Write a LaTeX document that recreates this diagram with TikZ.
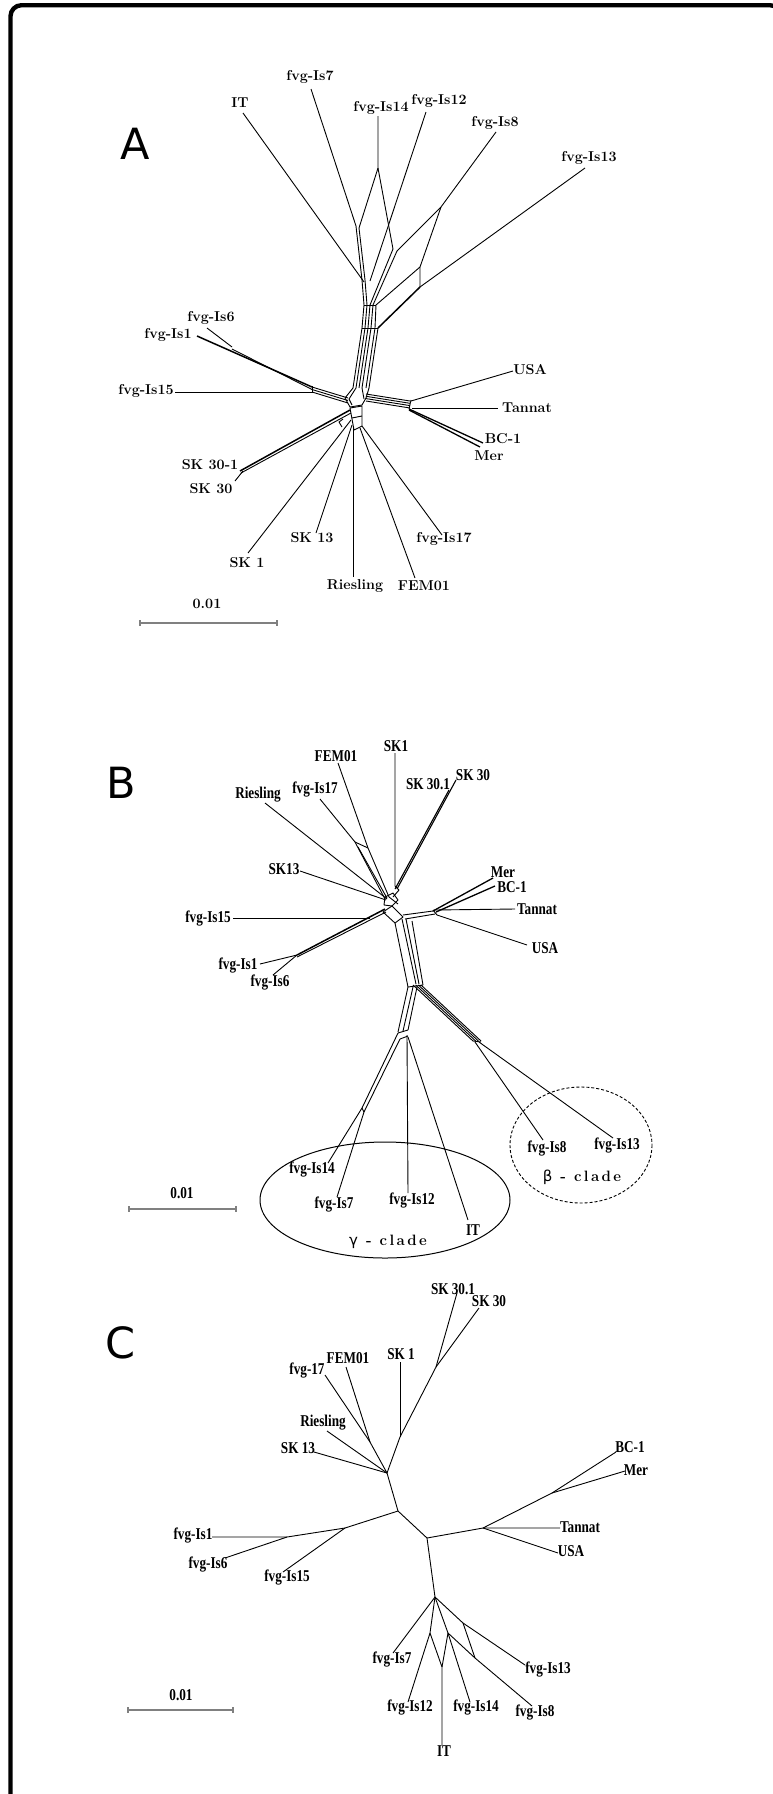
\documentclass[tikz,border=0pt]{standalone}
\usepackage{fontspec}
\newfontfamily\dejavu{DejaVu Sans}
\newfontfamily\tmsb[FakeStretch=0.8]{Liberation Serif Bold}
\newfontfamily\cladefont[LetterSpace=16]{Latin Modern Roman}
\begin{document}
\begin{tikzpicture}[x=1pt,y=-1pt,
  net/.style={line width=0.9pt,line join=round},
  netb/.style={line width=1.5pt,line join=round},
  lbA/.style={font=\fontsize{14.3}{15}\selectfont\bfseries,inner sep=0pt},
  lbB/.style={font=\fontsize{16.5}{17}\selectfont\tmsb,inner sep=0pt},
  letter/.style={font=\fontsize{43}{44}\selectfont\dejavu,inner sep=0pt},
  clade/.style={font=\fontsize{15}{16}\selectfont\cladefont\bfseries,inner sep=0pt},
  sbar/.style={draw=gray,line width=1.2pt}]
\useasboundingbox[fill=white] (0,0) rectangle (772,1794);
\draw[line width=4.4pt,rounded corners=11pt] (10.5,1820) -- (10.5,5.2) -- (781,5.2) -- (781,1820);

%================ PANEL A =================
\node[letter] (aPanel) at (135,144) {A};
\node[lbA] (aLIT) at (240,103) {IT};
\node[lbA] (aL7) at (310,77) {fvg-Is7};
\node[lbA] (aL14) at (381,108) {fvg-Is14};
\node[lbA] (aL12) at (439,101) {fvg-Is12};
\node[lbA] (aL8) at (495,123) {fvg-Is8};
\node[lbA] (aL13) at (589,158) {fvg-Is13};
\node[lbA] (aL6) at (211,318) {fvg-Is6};
\node[lbA] (aL1) at (168,335) {fvg-Is1};
\node[lbA] (aL15) at (146,391) {fvg-Is15};
\node[lbA] (aLUSA) at (530,370) {USA};
\node[lbA] (aLTan) at (527,408) {Tannat};
\node[lbA] (aLBC) at (503,439) {BC-1};
\node[lbA] (aLMer) at (489,456) {Mer};
\node[lbA] (aLSK301) at (210,465) {SK 30-1};
\node[lbA] (aLSK30) at (211,489) {SK 30};
\node[lbA] (aLSK13) at (312,538) {SK 13};
\node[lbA] (aLSK1) at (247,563) {SK 1};
\node[lbA] (aLRies) at (355,586) {Riesling};
\node[lbA] (aLFEM) at (424,586) {FEM01};
\node[lbA] (aL17) at (444,539) {fvg-Is17};
\node[lbA] (aLsc) at (207,604) {0.01};

\coordinate (aIT) at (243,113); \coordinate (aITj) at (364,282);
\coordinate (a7) at (311,89); \coordinate (a7j) at (356,226); \coordinate (a7k) at (359,228);
\coordinate (a14) at (378,116); \coordinate (a14j) at (378,168); \coordinate (a14r) at (393,249);
\coordinate (a12) at (426,112); \coordinate (a12j) at (370,281);
\coordinate (a8) at (496,132); \coordinate (a8j) at (441,207); \coordinate (a8l) at (397,251); \coordinate (a8r) at (420,267);
\coordinate (a13) at (585,168); \coordinate (a13j) at (420,287); \coordinate (a13b) at (378,328);

\draw[net] (aIT) -- (aITj);
\draw[net] (a7) -- (a7j);
\draw[net] (a14) -- (a14j) -- (a7k);
\draw[net] (a14j) -- (a14r);
\draw[net] (a12) -- (a12j);
\draw[net] (a8) -- (a8j) -- (a8l);
\draw[net] (a8j) -- (a8r) -- (a13j);
\draw[net] (a13) -- (a13j);
\draw[netb] (a13j) -- (a13b);
% trunk
\draw[net] (a7j) -- (362,280) -- (364,305) -- (362,328) -- (353,388);
\draw[net] (a7k) -- (365,280) -- (367,305) -- (365,328) -- (356,388);
\draw[net] (a14r) -- (370,305) -- (368,328) -- (359,388);
\draw[net] (a8l) -- (373,305) -- (371,328) -- (362,388);
\draw[net] (a8r) -- (376,305) -- (375,328) -- (366,388);
\draw[net] (a13b) -- (369,388);
\draw[net] (364,305) -- (376,305);
\draw[net] (362,328) -- (378,328);
% hub
\draw[net] (353,388) -- (345,398) -- (350,407) -- (362,405) -- (366,398) -- (369,388);
\draw[net] (356,388) -- (349,399) -- (352,405);
\draw[net] (362,388) -- (364,399);
\draw[net] (350,408) -- (362,406) -- (362,426) -- (354,430) -- cycle;
\draw[net] (352,418) -- (362,416);
% right arm
\foreach \d in {0,2.3,4.6,7} \draw[net] (366,394+\d) -- (410,401+\d);
\draw[net] (411,400) -- (409,409);
\coordinate (aRj) at (411,401);
\draw[net] (aRj) -- (513,371);
\draw[net] (412,408) -- (498,408);
\draw[line width=1.3pt] (409,409) -- (483,443);
\draw[line width=1.3pt] (409,410) -- (480,447);
% left arm
\foreach \d in {0,2.5,5} \draw[net] (348,398+\d) -- (312,387+\d);
\draw[net] (312,386) -- (312,393);
\draw[net] (312,392) -- (175,392);
\draw[netb] (312,387) -- (197,336);
\draw[net] (312,389.5) -- (232,349);
\draw[net] (232,347) -- (207,328);
% lower
\draw[netb] (350,410) -- (240,471);
\draw[net] (351,413) -- (241,473);
\draw[net] (243,471) -- (235,481);
\draw[net] (343,419) -- (339,422) -- (342,427);
\draw[net] (248,553) -- (351,420);
\draw[net] (316,533) -- (352,425);
\draw[net] (353,577) -- (353,428);
\draw[net] (415,578) -- (360,428);
\draw[net] (442,535) -- (362,426);
% scale
\draw[sbar] (140,623) -- (277,623);
\draw[sbar] (140,620) -- (140,626); \draw[sbar] (277,620) -- (277,626);

%================ PANEL B =================
\node[letter] (bPanel) at (121,783) {B};
\node[lbB] (bLFEM) at (336,756) {FEM01};
\node[lbB] (bLSK1) at (396,746) {SK1};
\node[lbB] (bLSK301) at (428,784) {SK 30.1};
\node[lbB] (bLSK30) at (473,775) {SK 30};
\node[lbB] (bLRies) at (258,795) {Riesling};
\node[lbB] (bL17) at (315,790) {fvg-Is17};
\node[lbB] (bLSK13) at (284,869) {SK13};
\node[lbB] (bLMer) at (503,872) {Mer};
\node[lbB] (bLBC) at (512,887) {BC-1};
\node[lbB] (bLTan) at (537,909) {Tannat};
\node[lbB] (bLUSA) at (545,948) {USA};
\node[lbB] (bL15) at (208,918) {fvg-Is15};
\node[lbB] (bL1) at (238,965) {fvg-Is1};
\node[lbB] (bL6) at (270,982) {fvg-Is6};
\node[lbB] (bL14) at (312,1169) {fvg-Is14};
\node[lbB] (bL7) at (334,1204) {fvg-Is7};
\node[lbB] (bL12) at (412,1200) {fvg-Is12};
\node[lbB] (bLIT) at (473,1230) {IT};
\node[lbB] (bL8) at (547,1148) {fvg-Is8};
\node[lbB] (bL13) at (617,1145) {fvg-Is13};
\node[lbB] (bLsc) at (182,1193) {0.01};

\draw[net] (338,763) -- (368,848) -- (389,897);
\draw[net] (320,799) -- (355,842) -- (385,899);
\draw[net] (355,842) -- (368,848);
\draw[net] (358,847) -- (387,898);
\draw[net] (395,753) -- (395,886) -- (399,890) -- (393,897);
\draw[line width=1.1pt] (449,790) -- (395,889);
\draw[line width=1.1pt] (456,780) -- (397,889);
\draw[net] (265,803) -- (387,899);
\draw[net] (300,871) -- (386,900);
\draw[net] (233,918) -- (370,918);
\draw[netb] (297,955) -- (385,909);
\draw[net] (297,957) -- (386,912);
\draw[net] (260,964) -- (297,955);
\draw[net] (273,975) -- (297,955);
% hub
\draw[net] (385,897) -- (393,893) -- (398,900) -- (392,906) -- (384,905) -- cycle;
\draw[net] (383,912) -- (392,906) -- (403,917) -- (395,923) -- cycle;
\draw[net] (389,897) -- (398,904);
% right arm
\draw[net] (403,915) -- (433,911);
\draw[net] (405,919) -- (435,914);
\draw[net] (433,910) -- (437,915);
\draw[net] (434,910) -- (515,909);
\draw[line width=1.3pt] (433,911) -- (493,878);
\draw[line width=1.3pt] (436,912) -- (495,886);
\draw[net] (437,915) -- (527,945);
% trunk
\draw[net] (395,923) -- (408,987);
\draw[net] (402,919) -- (416,984);
\draw[net] (406,919) -- (419,984);
\draw[net] (412,921) -- (423,985);
\draw[net] (408,987) -- (423,985);
% beta band
\foreach \d in {0,2.7,5.4,8} \draw[net] (413+\d,985) -- (473+\d,1041);
\draw[net] (473,1041) -- (481,1042);
\draw[net] (475,1042) -- (543,1140);
\draw[net] (479,1042) -- (613,1138);
% gamma band
\draw[net] (408,987) -- (398,1032);
\draw[net] (413,987) -- (403,1031);
\draw[net] (417,987) -- (408,1030);
\draw[net] (398,1033) -- (408,1030);
\draw[net] (400,1039) -- (408,1036);
\draw[net] (398,1033) -- (362,1108);
\draw[net] (400,1039) -- (364,1112);
\draw[net] (362,1108) -- (364,1112);
\draw[net] (362,1108) -- (328,1163);
\draw[net] (364,1112) -- (337,1197);
\draw[net] (407,1035) -- (408,1193);
\draw[net] (408,1037) -- (468,1220);
% clades
\draw[line width=1pt] (385,1200) ellipse [x radius=125, y radius=58];
\draw[line width=0.9pt,dash pattern=on 3pt off 2pt] (581,1145) ellipse [x radius=71, y radius=58];
\node[clade] (bGam) at (388,1242) {{\dejavu\mdseries γ} - clade};
\node[clade] (bBet) at (582,1177) {{\dejavu\mdseries β} - clade};
% scale
\draw[sbar] (129,1209) -- (236,1209);
\draw[sbar] (129,1206) -- (129,1212); \draw[sbar] (236,1206) -- (236,1212);

%================ PANEL C =================
\node[letter] (cPanel) at (121,1343) {C};
\node[lbB] (cLSK301) at (453,1289) {SK 30.1};
\node[lbB] (cLSK30) at (489,1301) {SK 30};
\node[lbB] (cLSK1) at (401,1354) {SK 1};
\node[lbB] (cLFEM) at (348,1358) {FEM01};
\node[lbB] (cL17) at (307,1370) {fvg-17};
\node[lbB] (cLRies) at (323,1423) {Riesling};
\node[lbB] (cLSK13) at (298,1448) {SK 13};
\node[lbB] (cLBC) at (630,1447) {BC-1};
\node[lbB] (cLMer) at (636,1470) {Mer};
\node[lbB] (cLTan) at (580,1527) {Tannat};
\node[lbB] (cLUSA) at (571,1551) {USA};
\node[lbB] (cL1) at (193,1535) {fvg-Is1};
\node[lbB] (cL6) at (208,1564) {fvg-Is6};
\node[lbB] (cL15) at (287,1577) {fvg-Is15};
\node[lbB] (cL7) at (392,1659) {fvg-Is7};
\node[lbB] (cL12) at (410,1707) {fvg-Is12};
\node[lbB] (cL14) at (476,1707) {fvg-Is14};
\node[lbB] (cL8) at (535,1712) {fvg-Is8};
\node[lbB] (cL13) at (548,1669) {fvg-Is13};
\node[lbB] (cLIT) at (444,1751) {IT};
\node[lbB] (cLsc) at (181,1695) {0.01};

\coordinate (c1) at (436,1367); \coordinate (c2) at (400,1437); \coordinate (c3) at (387,1473);
\coordinate (c4) at (370,1442); \coordinate (c5) at (398,1511); \coordinate (c6) at (345,1528);
\coordinate (c7) at (287,1537); \coordinate (c8) at (427,1538); \coordinate (c9) at (483,1528);
\coordinate (c10) at (552,1493); \coordinate (c11) at (435,1597); \coordinate (c12) at (430,1633);
\coordinate (c13) at (448,1633); \coordinate (c14) at (442,1667); \coordinate (c15) at (463,1623);
\coordinate (c16) at (475,1658);
\draw[net] (457,1293) -- (c1);
\draw[net] (479,1308) -- (c1);
\draw[net] (c1) -- (c2) -- (c3);
\draw[net] (400,1362) -- (c2);
\draw[net] (346,1367) -- (c4);
\draw[net] (325,1375) -- (c4);
\draw[net] (c4) -- (c3);
\draw[net] (327,1431) -- (c3);
\draw[net] (314,1452) -- (c3);
\draw[net] (c3) -- (c5) -- (c6) -- (c7) -- (212,1537);
\draw[net] (c7) -- (225,1558);
\draw[net] (c6) -- (283,1572);
\draw[net] (c5) -- (c8) -- (c9) -- (560,1528);
\draw[net] (c9) -- (558,1553);
\draw[net] (c9) -- (c10) -- (616,1452);
\draw[net] (c10) -- (625,1471);
\draw[net] (c8) -- (c11) -- (393,1653);
\draw[net] (c11) -- (c12) -- (408,1702);
\draw[net] (c12) -- (c14) -- (442,1745);
\draw[net] (c11) -- (c13) -- (c14);
\draw[net] (c13) -- (470,1702);
\draw[net] (c11) -- (c15) -- (525,1665);
\draw[net] (c15) -- (c16);
\draw[net] (c13) -- (c16) -- (532,1706);
% scale
\draw[sbar] (128,1710) -- (233,1710);
\draw[sbar] (128,1707) -- (128,1713); \draw[sbar] (233,1707) -- (233,1713);
\end{tikzpicture}
\end{document}
